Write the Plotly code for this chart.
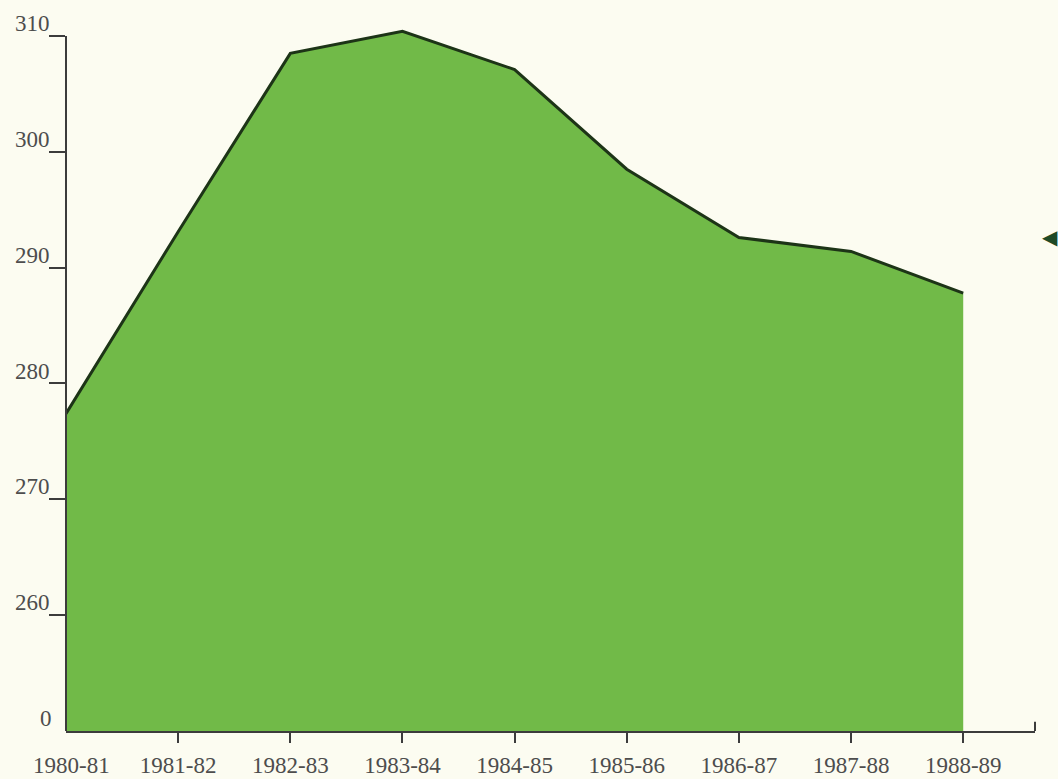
import plotly.graph_objects as go

# Seasons and the values plotted for each
seasons = ["1980-81", "1981-82", "1982-83", "1983-84", "1984-85",
           "1985-86", "1986-87", "1987-88", "1988-89"]
values = [277.4, 293.1, 308.5, 310.4, 307.1, 298.5, 292.6, 291.4, 287.8]

# Y axis: broken scale, the bottom of the axis is labelled "0"
y_ticks = [260, 270, 280, 290, 300, 310]
y_base = 250
y_base_label = "0"

positions = list(range(len(seasons)))

BG = "#fcfcf1"
FILL = "#71ba48"
EDGE = "#1d3417"
AXIS = "#3c3c3c"
TEXT = "#4d4d4d"
FONT = "Liberation Serif"
FSIZE = 23

fig = go.Figure()

fig.add_trace(go.Scatter(
    x=positions,
    y=values,
    mode="lines",
    line=dict(color=EDGE, width=3),
    fill="tozeroy",
    fillcolor=FILL,
    hoverinfo="skip",
    showlegend=False,
))

fig.update_layout(
    width=1058,
    height=779,
    margin=dict(l=66, r=23, t=29, b=48),
    paper_bgcolor=BG,
    plot_bgcolor=BG,
    font=dict(family=FONT, size=FSIZE, color=TEXT),
    xaxis=dict(
        range=[0, 8.64],
        automargin=False,
        tickmode="array",
        tickvals=positions[1:],
        ticktext=seasons[1:],
        ticks="outside",
        ticklen=10,
        tickwidth=2,
        tickcolor=AXIS,
        ticklabelstandoff=2,
        showline=True,
        linecolor=AXIS,
        linewidth=2,
        showgrid=False,
        zeroline=False,
        fixedrange=True,
    ),
    yaxis=dict(
        range=[y_base, 310.6],
        automargin=False,
        tickmode="array",
        tickvals=y_ticks,
        ticktext=[str(v) for v in y_ticks],
        ticks="outside",
        ticklen=16,
        tickwidth=2,
        tickcolor=AXIS,
        ticklabelshift=-13,
        ticklabelstandoff=-5,
        showline=False,
        showgrid=False,
        zeroline=False,
        fixedrange=True,
    ),
    shapes=[
        # vertical axis line, from the base up to the top tick
        dict(type="line", xref="x domain", yref="y",
             x0=0, x1=0, y0=y_base, y1=y_ticks[-1],
             line=dict(color=AXIS, width=2)),
        # closing tick at the right end of the horizontal axis
        dict(type="line", xref="x domain", yref="paper",
             x0=1, x1=1, y0=0, y1=0.013,
             line=dict(color=AXIS, width=2)),
    ],
    annotations=[
        # first season label (no tick mark under it)
        dict(x=positions[0], y=0, xref="x", yref="paper",
             text=seasons[0], showarrow=False,
             xanchor="center", yanchor="top", yshift=-20, xshift=5,
             font=dict(family=FONT, size=FSIZE, color=TEXT)),
        # label at the broken base of the vertical axis
        dict(x=0, y=y_base, xref="x domain", yref="y",
             text=y_base_label, showarrow=False,
             xanchor="right", yanchor="middle", xshift=-12, yshift=13,
             font=dict(family=FONT, size=FSIZE, color=TEXT)),
        # pointer at the right margin
        dict(x=1.0, y=0.704, xref="paper", yref="paper",
             text="\u25c0", showarrow=False,
             xanchor="left", yanchor="middle", xshift=5,
             font=dict(family="DejaVu Sans", size=20, color="#1f4a26")),
    ],
)

fig.write_html("out.html")
